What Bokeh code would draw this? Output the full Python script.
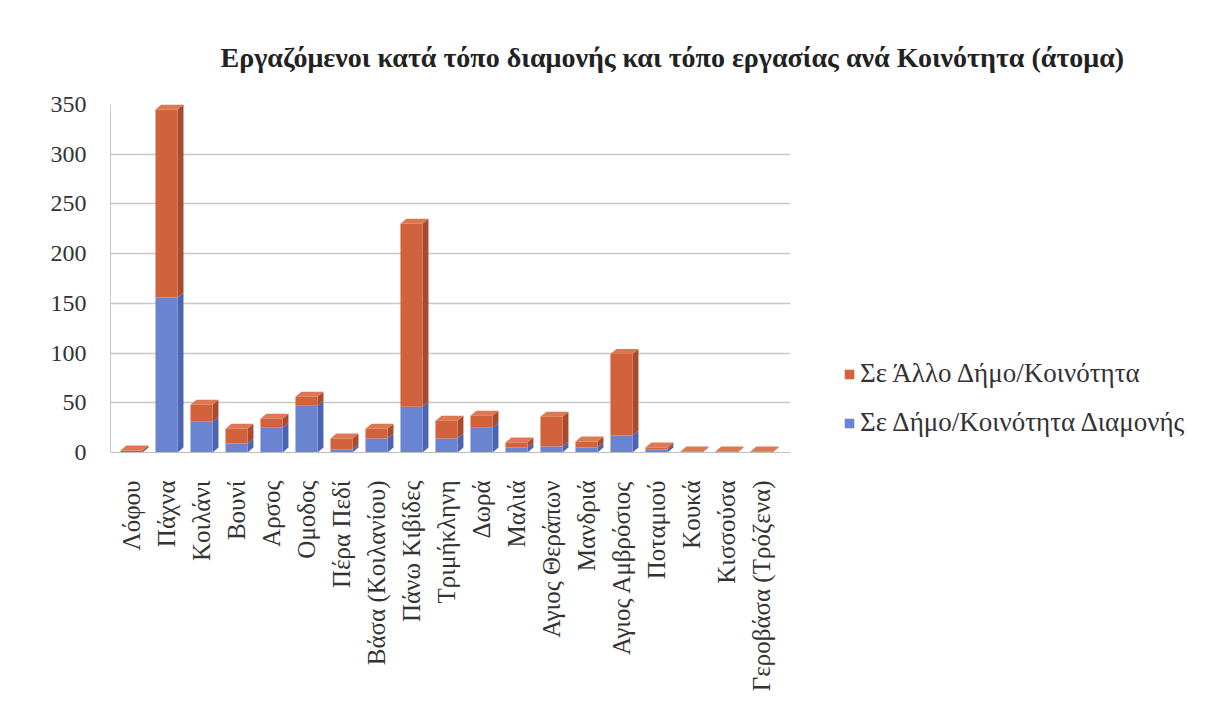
import numpy as np
from bokeh.plotting import figure
from bokeh.models import Range1d, FixedTicker, Legend, LegendItem
from bokeh.embed import file_html
from bokeh.resources import INLINE

categories = ["Λόφου", "Πάχνα", "Κοιλάνι", "Βουνί", "Αρσος", "Ομοδος", "Πέρα Πεδί",
              "Βάσα (Κοιλανίου)", "Πάνω Κιβίδες", "Τριμήκληνη", "Δωρά", "Μαλιά",
              "Αγιος Θεράπων", "Μανδριά", "Αγιος Αμβρόσιος", "Ποταμιού", "Κουκά",
              "Κισσούσα", "Γεροβάσα (Τρόζενα)"]
same_community = [0, 156, 31, 9, 25, 47, 3, 14, 46, 14, 25, 5, 6, 5, 17, 3, 0, 0, 0]
other_community = [2, 189, 17, 15, 9, 9, 11, 10, 184, 18, 12, 5, 30, 6, 82, 2, 1, 1, 1]
series_names = ["Σε Άλλο Δήμο/Κοινότητα", "Σε Δήμο/Κοινότητα Διαμονής"]
y_ticks = [0, 50, 100, 150, 200, 250, 300, 350]

FONT = "Liberation Serif"
ORANGE, ORANGE_SIDE, ORANGE_TOP = "#D2623C", "#A84A2D", "#DC7852"
BLUE, BLUE_SIDE, BLUE_TOP = "#6B84D2", "#4C64B2", "#8096DC"

n = len(categories)
x = np.arange(n, dtype=float)
blue = np.array(same_community, dtype=float)
orange = np.array(other_community, dtype=float)
total = blue + orange

W = 0.63   # bar width (category units)
DX = 0.17  # depth in x
DY = 5.0   # depth in y (value units)

p = figure(frame_width=680, frame_height=348, output_backend="svg", toolbar_location=None,
           x_range=Range1d(-0.6, 18.83), y_range=Range1d(0, 350),
           min_border_left=110, min_border_right=0, min_border_top=104,
           min_border_bottom=252)
p.outline_line_color = None
p.background_fill_color = "white"
p.border_fill_color = "white"

def side_faces(y0, y1):
    xs, ys = [], []
    for xi, a, b in zip(x, y0, y1):
        r = xi + W / 2
        xs.append([r, r + DX, r + DX, r])
        ys.append([a, a + DY, b + DY, b])
    return xs, ys

xs_b, ys_b = side_faces(np.zeros(n), blue)
p.patches(xs_b, ys_b, fill_color=BLUE_SIDE, line_color=None)
xs_o, ys_o = side_faces(blue, total)
p.patches(xs_o, ys_o, fill_color=ORANGE_SIDE, line_color=None)

tx, ty = [], []
for xi, t in zip(x, total):
    l, r = xi - W / 2, xi + W / 2
    tx.append([l, l + DX, r + DX, r])
    ty.append([t, t + DY, t + DY, t])
p.patches(tx, ty, fill_color=ORANGE_TOP, line_color=None)

rb = p.vbar(x=x, bottom=0, top=blue, width=W, fill_color=BLUE, line_color=None)
ro = p.vbar(x=x, bottom=blue, top=total, width=W, fill_color=ORANGE, line_color=None)

p.xaxis.ticker = FixedTicker(ticks=list(range(n)))
p.xaxis.major_label_overrides = {i: c for i, c in enumerate(categories)}
p.xaxis.major_label_orientation = np.pi / 2
p.xaxis.major_label_text_font = FONT
p.xaxis.major_label_text_font_size = "25px"
p.xaxis.major_label_text_color = "#333333"
p.xaxis.major_tick_line_color = None
p.xaxis.minor_tick_line_color = None
p.xaxis.axis_line_color = "#bfbfbf"
p.xaxis.major_label_standoff = 22

p.yaxis.ticker = FixedTicker(ticks=y_ticks)
p.yaxis.major_label_text_font = FONT
p.yaxis.major_label_text_font_size = "24px"
p.yaxis.major_label_text_color = "#333333"
p.yaxis.major_tick_line_color = None
p.yaxis.minor_tick_line_color = None
p.yaxis.axis_line_color = "#c8c8c8"
p.yaxis.major_label_standoff = 18

p.xgrid.grid_line_color = None
p.ygrid.grid_line_color = "#c8c8c8"
p.ygrid.grid_line_width = 1.5

p.title.text = "Εργαζόμενοι κατά τόπο διαμονής και τόπο εργασίας  ανά Κοινότητα (άτομα)"
p.title.text_font = FONT
p.title.text_font_size = "28px"
p.title.text_font_style = "bold"
p.title.text_color = "#222222"
p.title.align = "left"
p.title.offset = 110
p.title.standoff = 64

legend = Legend(items=[LegendItem(label=series_names[0], renderers=[ro]),
                       LegendItem(label=series_names[1], renderers=[rb])],
                location=(53, 14))
legend.label_text_font = FONT
legend.label_text_font_size = "27px"
legend.label_text_color = "#333333"
legend.glyph_width = 12
legend.glyph_height = 12
legend.label_standoff = 5
legend.spacing = 18
legend.padding = 0
legend.margin = 0
legend.border_line_color = None
legend.background_fill_alpha = 0
p.add_layout(legend, "right")

open("out.html", "w").write(file_html(p, INLINE))
